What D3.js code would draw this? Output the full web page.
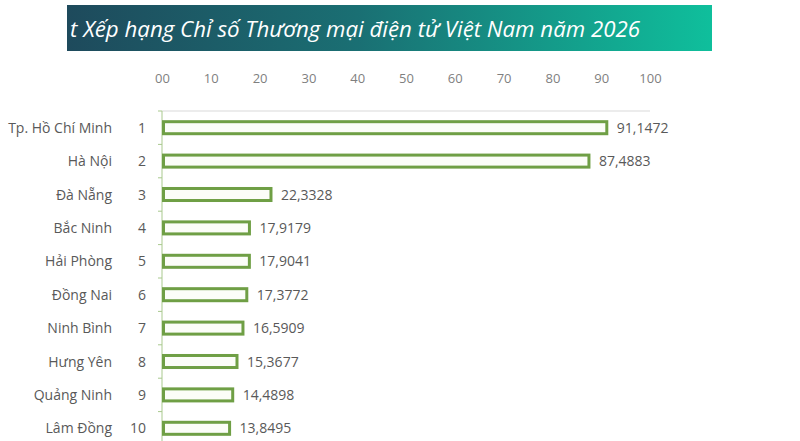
<!DOCTYPE html>
<html><head><meta charset="utf-8">
<script src="https://cdn.jsdelivr.net/npm/d3@7"></script>
<style>body{margin:0;background:#fff}</style>
</head><body><div id="chart"></div>
<script>
const provinces = ["Tp. Hồ Chí Minh","Hà Nội","Đà Nẵng","Bắc Ninh","Hải Phòng","Đồng Nai","Ninh Bình","Hưng Yên","Quảng Ninh","Lâm Đồng"];
const ranks = [1,2,3,4,5,6,7,8,9,10];
const scores = [91.1472,87.4883,22.3328,17.9179,17.9041,17.3772,16.5909,15.3677,14.4898,13.8495];
const tickValues = [0,10,20,30,40,50,60,70,80,90,100];
const tickLabels = ["00","10","20","30","40","50","60","70","80","90","100"];

const W = 800, H = 441;
const font = "'Liberation Sans Narrow','Open Sans',sans-serif";
const svg = d3.select('#chart').append('svg').attr('width', W).attr('height', H);

// banner
const grad = svg.append('defs').append('linearGradient').attr('id','bn');
grad.append('stop').attr('offset','0%').attr('stop-color','#1e4a5c');
grad.append('stop').attr('offset','45%').attr('stop-color','#1a6f73');
grad.append('stop').attr('offset','100%').attr('stop-color','#0fbf9c');
svg.append('rect').attr('x',67).attr('y',5).attr('width',645).attr('height',46).attr('fill','url(#bn)');
svg.append('text').attr('x',70).attr('y',37).attr('fill','#fff')
   .style('font-family',"'Open Sans',sans-serif").style('font-style','italic').style('font-size','22px')
   .attr('textLength',570).attr('lengthAdjust','spacingAndGlyphs')
   .text('t Xếp hạng Chỉ số Thương mại điện tử Việt Nam năm 2026');

const x = d3.scaleLinear().domain([0,100]).range([162,650]);
const y = d3.scaleBand().domain(ranks).range([111,445]).paddingInner(0.64).paddingOuter(0.32);

// top axis labels
const ax = svg.append('g').attr('transform','translate(0,86)')
   .call(d3.axisTop(x).tickValues(tickValues).tickFormat((d,i)=>tickLabels[i]).tickSize(0));
ax.select('.domain').remove();
ax.selectAll('text').attr('fill','#7f7f7f').style('font-family',font).style('font-size','13px');

svg.append('line').attr('x1',x(0)).attr('x2',x(100)).attr('y1',111).attr('y2',111).attr('stroke','#d9d9d9');
svg.append('line').attr('x1',x(0)).attr('x2',x(0)).attr('y1',111).attr('y2',H).attr('stroke','#a9c98e');
const step = y.step();
svg.selectAll('.tk').data(ranks).enter().append('line')
   .attr('x1',x(0)-4).attr('x2',x(0)).attr('stroke','#a9c98e')
   .attr('y1',d=>y(d)-(step-y.bandwidth())/2).attr('y2',d=>y(d)-(step-y.bandwidth())/2);

svg.selectAll('.bar').data(scores).enter().append('rect')
   .attr('x',x(0)+1.5).attr('y',(d,i)=>y(ranks[i]))
   .attr('width',d=>x(d)-x(0)-1.5).attr('height',y.bandwidth())
   .attr('fill','#fbfdf8').attr('stroke','#6f9f45').attr('stroke-width',3);

svg.selectAll('.val').data(scores).enter().append('text')
   .attr('x',d=>x(d)+10).attr('y',(d,i)=>y(ranks[i])+y.bandwidth()/2+5)
   .attr('fill','#595959').style('font-family',font).style('font-size','14px')
   .text(d=>d.toFixed(4).replace('.',','));
svg.selectAll('.rk').data(ranks).enter().append('text')
   .attr('x',146).attr('y',d=>y(d)+y.bandwidth()/2+5).attr('text-anchor','end')
   .attr('fill','#595959').style('font-family',font).style('font-size','14px').text(d=>d);
svg.selectAll('.nm').data(provinces).enter().append('text')
   .attr('x',112).attr('y',(d,i)=>y(ranks[i])+y.bandwidth()/2+5).attr('text-anchor','end')
   .attr('fill','#595959').style('font-family',font).style('font-size','14px').text(d=>d);
</script></body></html>
